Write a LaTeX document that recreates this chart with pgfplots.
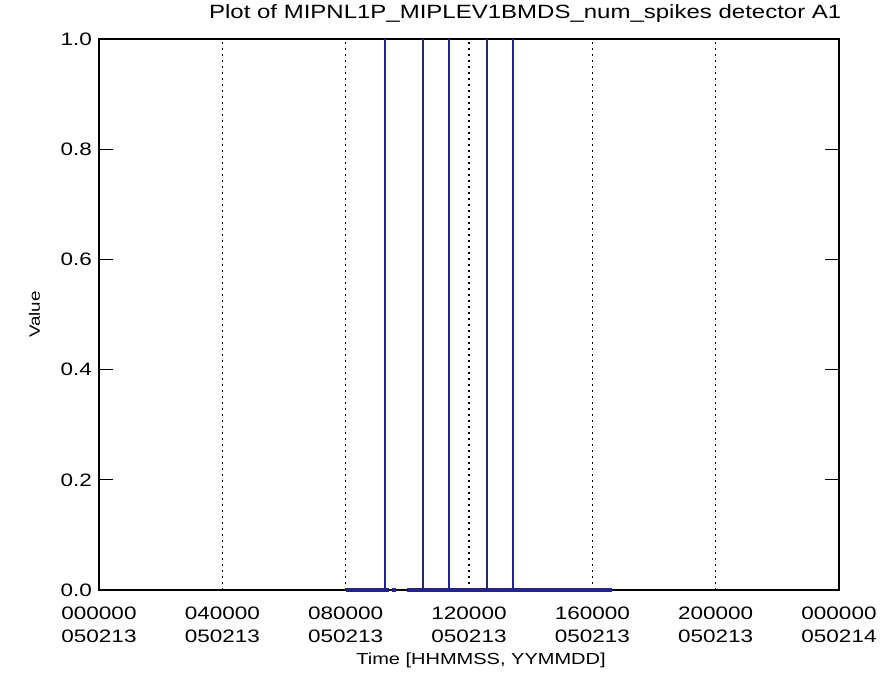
\documentclass[border=0pt]{standalone}
\usepackage{fontspec}
\setmainfont{Liberation Sans}[FakeStretch=1.25]
\usepackage{pgfplots}
\pgfplotsset{compat=1.18}

\definecolor{idlblue}{RGB}{35,35,140}

\begin{document}
\begin{tikzpicture}
% 1px of the reference = 0.5pt, axis box at (99,39)-(839,590) px
\begin{axis}[
    at={(0,0)}, anchor=south west,
    scale only axis,
    width=370pt, height=275.5pt,
    xmin=0, xmax=24,
    ymin=0, ymax=1,
    clip=false,
    set layers,
    axis line style={line width=0.9pt},
    xtick={0,4,8,12,16,20,24},
    xticklabels={000000\\[2.5pt]050213, 040000\\[2.5pt]050213, 080000\\[2.5pt]050213,
                 120000\\[2.5pt]050213, 160000\\[2.5pt]050213, 200000\\[2.5pt]050213,
                 000000\\[2.5pt]050214},
    x tick label style={align=center, font=\fontsize{9}{9}\selectfont, yshift=-5pt},
    xmajorgrids,
    major x grid style={black, line width=0.6pt, dash pattern=on 1.2pt off 1.8pt},
    major x tick style={draw=none},
    ytick={0,0.2,0.4,0.6,0.8,1.0},
    yticklabel style={font=\fontsize{9}{10}\selectfont,
        /pgf/number format/.cd, fixed, fixed zerofill, precision=1, assume math mode=true},
    ytick pos=both,
    tick align=inside,
    major tick length=7pt,
    y tick style={black, line width=0.6pt},
    xlabel={Time [HHMMSS, YYMMDD]},
    xlabel style={font=\fontsize{8}{10}\selectfont, yshift=2pt, xshift=6pt},
    ylabel={Value},
    ylabel style={font=\fontsize{7.5}{8}\selectfont, at={(axis description cs:-0.07,0.5)}},
    title={Plot of MIPNL1P\_MIPLEV1BMDS\_num\_spikes detector A1},
    title style={font=\fontsize{9.6}{12}\selectfont, at={(axis description cs:0.576,1)},
        anchor=center, yshift=6.5pt},
    unbounded coords=jump,
]
% baseline of the series (zero values)
\addplot[idlblue, line width=1.6pt, on layer=axis foreground] coordinates {
    (8.00,0) (9.40,0)
    (9.40,nan)
    (9.50,0) (9.62,0)
    (9.62,nan)
    (9.99,0) (16.63,0)
};
% spikes to 1
\addplot[idlblue, line width=0.8pt, ycomb, on layer=axis foreground] coordinates {
    (9.28,1) (10.50,1) (11.35,1) (12.58,1) (13.42,1)
};
\end{axis}
\pgfresetboundingbox
\useasboundingbox (-49.5pt,-48.5pt) rectangle (395pt,295pt);
\end{tikzpicture}
\end{document}
